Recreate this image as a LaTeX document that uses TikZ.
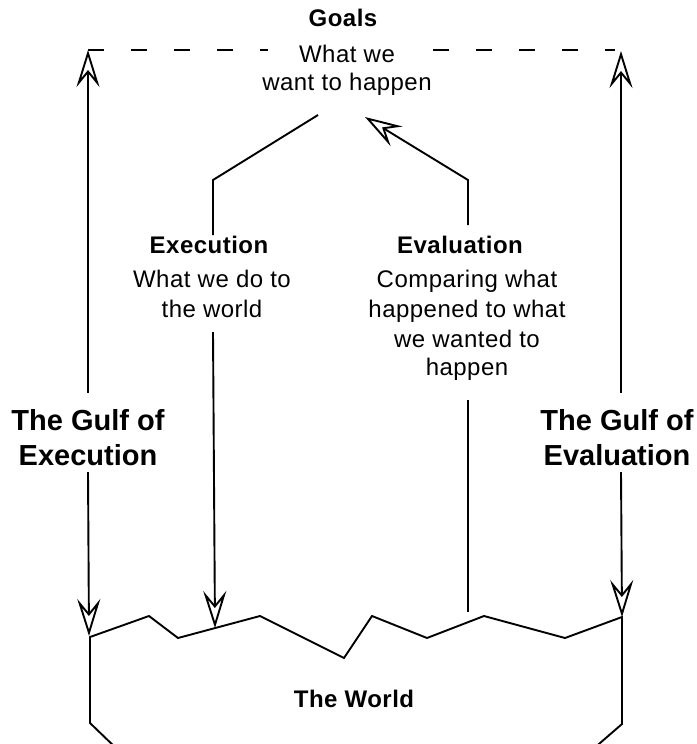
\documentclass[tikz,border=0pt]{standalone}
\usepackage{fontspec}
\newfontfamily\lblfont[LetterSpace=2]{Liberation Sans}
\newfontfamily\gulffont{Liberation Sans}
\usetikzlibrary{arrows.meta}
\tikzset{
  conn/.style={line width=1.9pt, line join=miter},
  tipconn/.style={conn, -{Stealth[open, length=37pt, width=23pt, inset=14pt]}},
  lbl/.style={inner sep=0pt, anchor=base, font=\lblfont\fontsize{24}{28}\selectfont},
  lblb/.style={inner sep=0pt, anchor=base, font=\lblfont\bfseries\fontsize{24}{28}\selectfont},
  gulf/.style={inner sep=0pt, anchor=base, font=\gulffont\bfseries\fontsize{29}{34}\selectfont},
  worldlbl/.style={inner sep=0pt, anchor=base, font=\lblfont\bfseries\fontsize{24}{28}\selectfont},
  dashline/.style={line width=1.9pt, dash pattern=on 16pt off 27pt},
}
\begin{document}
\begin{tikzpicture}[x=1pt, y=-1pt]
\path[use as bounding box, fill=white] (0,0) rectangle (696,744);

% Goals
\node[lblb] (goals) at (343,27) {Goals};
\node[lbl] (goals1) at (347,62) {What we};
\node[lbl] (goals2) at (347,90) {want to happen};

% Execution
\node[lblb] (exec) at (209,253) {Execution};
\node[lbl] (exec1) at (212,287) {What we do to};
\node[lbl] (exec2) at (212,317) {the world};

% Evaluation
\node[lblb] (eval) at (460,253) {Evaluation};
\node[lbl] (eval1) at (467,287) {Comparing what};
\node[lbl] (eval2) at (467,317) {happened to what};
\node[lbl] (eval3) at (467,347) {we wanted to};
\node[lbl] (eval4) at (467,375) {happen};

% Gulfs
\node[gulf] (gulfE1) at (88,430) {The Gulf of};
\node[gulf] (gulfE2) at (88,465) {Execution};
\node[gulf] (gulfV1) at (617,430) {The Gulf of};
\node[gulf] (gulfV2) at (617,465) {Evaluation};

% World
\node[worldlbl] (world) at (354,707) {The World};
\draw[conn] (118,750) -- (90,723) -- (90,637) -- (149,616) -- (178,638)
  -- (260,616) -- (344,658) -- (372,616) -- (427,638) -- (484,616)
  -- (565,638) -- (622,617) -- (622,724) -- (592,750);

% coordinates
\coordinate (gl) at (88,50);
\coordinate (gr) at (621,51);
\coordinate (dl1) at (268,50);
\coordinate (dr1) at (433,50);
\coordinate (dr2) at (615,50);
\coordinate (lu) at (88,393);
\coordinate (ld) at (88,472);
\coordinate (lw) at (89,636);
\coordinate (ru) at (621,393);
\coordinate (rd) at (621,472);
\coordinate (rw) at (622,617);
\coordinate (eA) at (318,115);
\coordinate (eB) at (213,180);
\coordinate (eC) at (213,235);
\coordinate (eD) at (213,332);
\coordinate (eW) at (215,628);
\coordinate (vW) at (468,612);
\coordinate (vB) at (468,400);
\coordinate (vC) at (468,225);
\coordinate (vD) at (468,180);
\coordinate (vT) at (365,117);

% dashed goal line
\draw[dashline] (gl) -- (dl1);
\draw[dashline] (dr1) -- (dr2);

% gulf arrows
\draw[tipconn] (lu) -- (gl);
\draw[tipconn] (ld) -- (lw);
\draw[tipconn] (ru) -- (gr);
\draw[tipconn] (rd) -- (rw);

% execution
\draw[conn] (eA) -- (eB) -- (eC);
\draw[tipconn] (eD) -- (eW);

% evaluation
\draw[conn] (vW) -- (vB);
\draw[tipconn] (vC) -- (vD) -- (vT);
\end{tikzpicture}
\end{document}
